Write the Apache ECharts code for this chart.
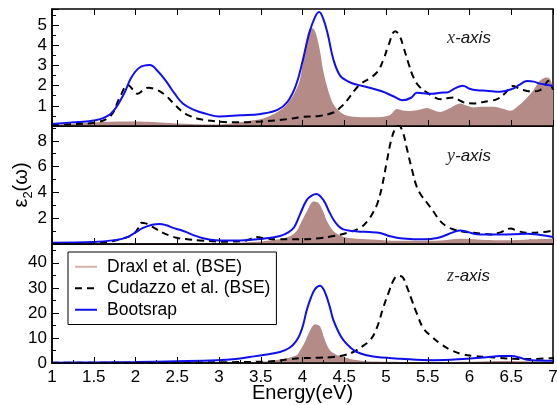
<!DOCTYPE html>
<html>
<head>
    <meta charset="utf-8">
    <title>Dielectric function - three axes</title>
    <script src="https://cdn.jsdelivr.net/npm/echarts@6/dist/echarts.min.js"></script>
</head>
<body style="margin:0">
    <div id="chart" style="width: 557px; height: 405px;"></div>

    <script>
    // ---- data (energy in eV, epsilon_2) ----
    // x-axis panel
    const bluexE = [1.0,1.3,1.5,1.7,1.85,1.95,2.05,2.17,2.27,2.37,2.47,2.57,2.7,2.85,3.0,3.25,3.5,3.7,3.82,3.92,4.0,4.08,4.15,4.2,4.25,4.3,4.37,4.45,4.55,4.65,4.8,4.95,5.1,5.2,5.3,5.37,5.45,5.56,5.65,5.73,5.82,5.92,6.0,6.09,6.2,6.37,6.52,6.6,6.69,6.77,6.84,6.92,7.0];
    const bluexV = [0.1,0.2,0.27,0.6,1.5,2.4,2.9,3.02,2.7,2.2,1.6,1.1,0.8,0.6,0.47,0.53,0.6,0.8,1.2,2.0,3.2,4.6,5.4,5.65,5.3,4.6,3.3,2.5,2.2,2.05,1.9,1.72,1.45,1.28,1.4,1.65,1.62,1.6,1.65,1.66,1.85,2.0,1.85,1.77,1.75,1.7,1.85,2.05,2.23,2.2,2.1,2.05,1.98];
    const dashxE = [1.0,1.3,1.5,1.7,1.81,1.91,1.97,2.02,2.1,2.15,2.25,2.35,2.45,2.55,2.65,2.8,3.0,3.2,3.5,3.8,4.0,4.2,4.37,4.45,4.53,4.62,4.7,4.8,4.9,4.97,5.03,5.11,5.16,5.21,5.27,5.33,5.4,5.49,5.57,5.65,5.73,5.81,5.87,5.93,6.05,6.13,6.25,6.33,6.42,6.52,6.6,6.69,6.77,6.84,6.9,6.94,7.0];
    const dashxV = [0.05,0.1,0.16,0.5,1.4,2.03,1.8,1.6,1.8,1.9,1.8,1.55,1.15,0.75,0.5,0.32,0.22,0.18,0.22,0.33,0.45,0.5,0.67,0.9,1.25,1.75,2.1,2.35,2.7,3.3,4.0,4.7,4.5,3.9,3.1,2.4,1.95,1.66,1.45,1.33,1.38,1.41,1.3,1.17,1.12,1.17,1.25,1.33,1.6,1.98,1.85,1.74,1.72,1.77,2.0,2.23,1.8];
    const fillxE = [1.0,1.3,1.6,2.0,2.4,2.8,3.0,3.2,3.4,3.55,3.7,3.8,3.9,3.97,4.03,4.08,4.12,4.16,4.21,4.25,4.31,4.37,4.45,4.55,4.77,4.95,5.05,5.13,5.22,5.29,5.4,5.49,5.57,5.65,5.75,5.89,5.97,6.05,6.17,6.29,6.4,6.49,6.6,6.69,6.77,6.84,6.92,6.96,7.0];
    const fillxV = [0.05,0.12,0.2,0.22,0.15,0.08,0.08,0.15,0.28,0.4,0.7,1.0,1.6,2.3,3.9,4.8,4.85,4.6,3.7,2.7,1.74,1.08,0.7,0.5,0.43,0.45,0.55,0.84,0.75,0.74,0.8,0.89,0.78,0.69,0.85,1.12,1.0,0.92,0.95,0.95,0.85,0.75,1.05,1.41,1.8,2.23,2.4,2.35,1.95];

    // y-axis panel
    const blueyE = [1.0,1.5,1.75,1.89,2.0,2.09,2.2,2.29,2.37,2.45,2.53,2.61,2.71,2.81,2.9,3.01,3.25,3.53,3.73,3.83,3.9,3.97,4.05,4.11,4.17,4.22,4.27,4.32,4.37,4.43,4.49,4.6,4.69,4.8,4.93,5.05,5.17,5.35,5.49,5.6,5.69,5.8,5.89,5.97,6.05,6.13,6.37,6.69,6.85,7.0];
    const blueyV = [0.1,0.15,0.3,0.49,0.9,1.25,1.5,1.56,1.45,1.25,1.1,0.92,0.65,0.44,0.33,0.28,0.28,0.41,0.62,0.9,1.3,2.3,3.4,3.75,3.87,3.65,3.2,2.5,1.9,1.4,1.13,1.0,0.95,0.93,0.85,0.6,0.44,0.37,0.36,0.45,0.62,0.9,1.05,0.95,0.8,0.74,0.74,0.79,0.7,0.55];
    const dashyE = [1.0,1.5,1.7,1.85,1.97,2.03,2.07,2.12,2.17,2.25,2.33,2.41,2.49,2.6,2.77,3.05,3.29,3.38,3.45,3.55,3.69,3.97,4.2,4.37,4.53,4.69,4.78,4.85,4.9,4.95,5.01,5.06,5.11,5.15,5.2,5.25,5.31,5.37,5.43,5.49,5.57,5.65,5.73,5.81,5.93,6.05,6.15,6.25,6.37,6.49,6.58,6.69,6.85,7.0];
    const dashyV = [0.05,0.1,0.2,0.44,0.74,1.2,1.64,1.6,1.46,1.15,0.87,0.65,0.49,0.38,0.28,0.18,0.23,0.4,0.54,0.45,0.36,0.36,0.45,0.62,0.85,1.25,1.8,2.5,3.2,4.4,6.4,8.0,8.95,9.2,8.7,7.4,5.8,4.4,3.7,3.2,2.5,1.77,1.35,1.13,0.95,0.87,0.8,0.74,0.9,1.2,1.0,0.87,0.9,1.05];
    const fillyE = [1.0,2.0,2.5,3.0,3.4,3.7,3.85,3.93,3.97,4.05,4.13,4.19,4.25,4.29,4.37,4.45,4.53,4.77,5.0,5.3,5.5,5.7,5.9,6.1,6.3,6.5,6.7,7.0];
    const fillyV = [0.02,0.05,0.05,0.05,0.15,0.35,0.6,1.0,1.5,2.5,3.3,3.2,2.5,1.8,1.0,0.65,0.49,0.36,0.28,0.25,0.25,0.3,0.4,0.35,0.3,0.3,0.35,0.4];

    // z-axis panel
    const bluezE = [1.0,1.5,2.0,2.5,2.97,3.2,3.37,3.55,3.73,3.85,3.93,3.97,4.01,4.05,4.1,4.15,4.21,4.25,4.29,4.33,4.37,4.43,4.49,4.57,4.65,4.77,4.89,5.17,5.57,5.97,6.2,6.37,6.5,6.6,6.69,6.85,7.0];
    const bluezV = [0.1,0.2,0.4,0.7,1.1,1.6,2.4,3.3,4.4,6.2,9,11.5,15.5,21,26,29.5,30.8,29.5,26.4,22,17.1,12.5,9.1,6.3,4.4,3.1,2.4,1.7,1.1,1.7,2.3,2.8,2.75,2.2,1.3,1.0,0.9];
    const dashzE = [1.0,2.0,3.0,3.57,3.85,3.97,4.2,4.37,4.5,4.61,4.71,4.81,4.89,4.97,5.03,5.09,5.14,5.19,5.25,5.31,5.37,5.45,5.55,5.65,5.77,5.89,6.05,6.21,6.37,6.53,6.75,7.0];
    const dashzV = [0.05,0.1,0.3,0.6,1.5,1.9,2.1,2.4,3.1,4.4,6.5,9.1,14,22.4,28,33,34.8,34.5,30.4,25,19.7,13.7,10.5,7.7,5.3,3.7,2.8,2.4,2.0,1.7,1.6,2.0];
    const fillzE = [1.0,2.0,3.0,3.5,3.75,3.93,3.97,4.03,4.09,4.15,4.21,4.27,4.33,4.41,4.49,4.6,4.77,5.0,5.5,6.0,6.4,6.6,7.0];
    const fillzV = [0.02,0.05,0.1,0.5,1.5,3.1,5.0,8.5,13,15.5,14.7,9,5,3.2,2.4,1.4,0.7,0.5,0.4,0.5,0.8,0.7,0.5];

    const panelNames = ['x', 'y', 'z'];
    const yMax = [5.8, 9.15, 47.5];
    const yStep = [1, 2, 10];

    const FONT = 'Liberation Sans, Arial, sans-serif';
    const BROWN = '#b58b87';
    const BLUE = '#1010ee';

    const zip = (xs, ys) => xs.map((x, i) => [x, ys[i]]);

    const chart = echarts.init(document.getElementById('chart'));

    const grids = [
        { left: 52, right: 4, top: 9, height: 117 },
        { left: 52, right: 4, top: 126, height: 118 },
        { left: 52, right: 4, top: 244, height: 119 }
    ].map(g => Object.assign(g, {
        show: true, borderColor: '#000', borderWidth: 1.5,
        containLabel: false, outerBoundsMode: 'none'
    }));

    const xAxes = [0, 1, 2].map(i => ({
        type: 'value', gridIndex: i, min: 1, max: 7, interval: 0.5, z: 5,
        axisLine: { show: true, lineStyle: { color: '#000', width: 1.5 } },
        axisTick: { inside: true, length: 6, lineStyle: { color: '#000' } },
        minorTick: { show: i === 2, splitNumber: 2, length: 3, lineStyle: { color: '#000' } },
        splitLine: { show: false },
        axisLabel: { show: i === 2, color: '#000', fontSize: 17, fontFamily: FONT, margin: 6 },
        name: i === 2 ? 'Energy(eV)' : '',
        nameLocation: 'middle', nameGap: 20, nameMoveOverlap: false,
        nameTextStyle: { color: '#000', fontSize: 20, fontFamily: FONT }
    }));
    // mirror ticks on top of the first panel
    xAxes.push({
        type: 'value', gridIndex: 0, position: 'top', min: 1, max: 7, interval: 0.5, z: 5,
        axisLine: { show: false },
        axisTick: { inside: true, length: 6, lineStyle: { color: '#000' } },
        splitLine: { show: false },
        axisLabel: { show: false }
    });

    const yAxes = [0, 1, 2].map(i => ({
        type: 'value', gridIndex: i, min: 0, max: yMax[i], interval: yStep[i], z: 5,
        axisLine: { show: true, lineStyle: { color: '#000', width: 1.5 } },
        axisTick: { inside: true, length: 7, lineStyle: { color: '#000' } },
        minorTick: { show: true, splitNumber: 2, length: 4, lineStyle: { color: '#000' } },
        splitLine: { show: false },
        axisLabel: {
            color: '#000', fontSize: 17, fontFamily: FONT, margin: 5,
            formatter: v => {
                if (Math.abs(v / yStep[i] - Math.round(v / yStep[i])) > 1e-6) return '';
                if (v === 0 && i < 2) return '';
                return String(v);
            }
        }
    }));
    yAxes[1].name = '{e|ε}{s|2}{e|(ω)}';
    yAxes[1].nameLocation = 'middle';
    yAxes[1].nameGap = 17;
    yAxes[1].nameMoveOverlap = false;
    yAxes[1].nameTextStyle = {
        color: '#000',
        rich: {
            e: { fontSize: 20, fontFamily: FONT, color: '#000', lineHeight: 28 },
            s: { fontSize: 13, fontFamily: FONT, color: '#000', lineHeight: 13, verticalAlign: 'bottom' }
        }
    };

    const sets = [
        [fillxE, fillxV, bluexE, bluexV, dashxE, dashxV],
        [fillyE, fillyV, blueyE, blueyV, dashyE, dashyV],
        [fillzE, fillzV, bluezE, bluezV, dashzE, dashzV]
    ];

    const series = [];
    sets.forEach((s, i) => {
        series.push({
            name: 'Draxl et al. (BSE)', type: 'line', xAxisIndex: i, yAxisIndex: i,
            data: zip(s[0], s[1]), symbol: 'none', smooth: 0.3, z: 1,
            lineStyle: { width: 0, color: BROWN }, itemStyle: { color: BROWN },
            areaStyle: { color: BROWN, opacity: 1 }
        });
        series.push({
            name: 'Cudazzo et al. (BSE)', type: 'line', xAxisIndex: i, yAxisIndex: i,
            data: zip(s[4], s[5]), symbol: 'none', smooth: 0.4, z: 2,
            lineStyle: { width: 2, color: '#000', type: [7, 5] }, itemStyle: { color: '#000' }
        });
        series.push({
            name: 'Bootsrap', type: 'line', xAxisIndex: i, yAxisIndex: i,
            data: zip(s[2], s[3]), symbol: 'none', smooth: 0.4, z: 3,
            lineStyle: { width: 2, color: BLUE }, itemStyle: { color: BLUE }
        });
    });

    const labelTops = [38, 156, 276];
    const option = {
        animation: false,
        backgroundColor: '#fff',
        grid: grids,
        xAxis: xAxes,
        yAxis: yAxes,
        series: series,
        legend: {
            orient: 'vertical', left: 68, top: 252,
            padding: [4, 6, 4, 6],
            borderColor: '#000', borderWidth: 1, backgroundColor: '#fff',
            itemWidth: 22, itemHeight: 14, itemGap: 0,
            itemStyle: { opacity: 0 },
            textStyle: { fontSize: 17.5, lineHeight: 21.5, fontFamily: FONT, color: '#000', padding: [0, 0, 0, 5] },
            data: [
                { name: 'Draxl et al. (BSE)', lineStyle: { width: 2, color: '#d4b0ab' } },
                { name: 'Cudazzo et al. (BSE)' },
                { name: 'Bootsrap' }
            ]
        },
        graphic: panelNames.map((p, i) => ({
            type: 'text', x: 447, y: labelTops[i], z: 10,
            style: {
                text: '{v|' + p + '}{a|-axis}',
                verticalAlign: 'middle',
                rich: {
                    v: { fontFamily: 'Liberation Serif, Times New Roman, serif', fontStyle: 'italic', fontSize: 18, fill: '#333' },
                    a: { fontFamily: FONT, fontStyle: 'italic', fontSize: 17, fill: '#111' }
                }
            }
        }))
    };

    chart.setOption(option);
    </script>
</body>
</html>
